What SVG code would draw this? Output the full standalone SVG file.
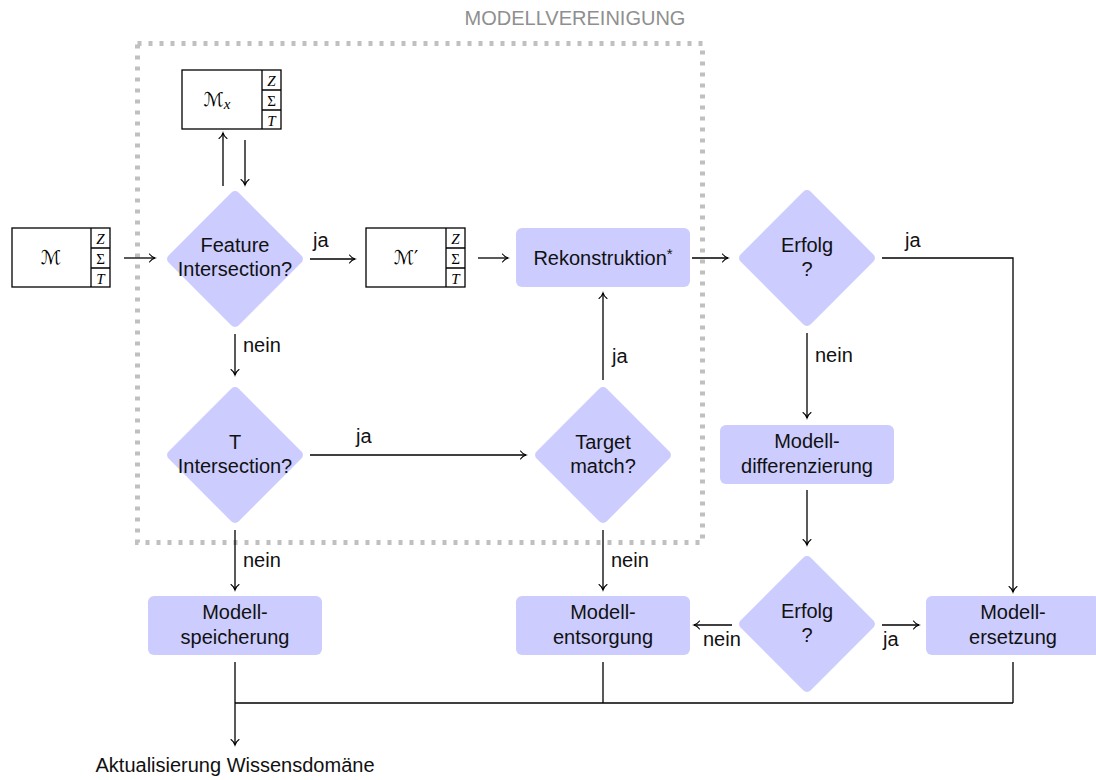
<svg xmlns="http://www.w3.org/2000/svg" width="1096" height="780" viewBox="0 0 1096 780">
  <defs>
    <marker id="arrow" markerUnits="userSpaceOnUse" markerWidth="12" markerHeight="12" viewBox="-7 -6 8 12" refX="0" refY="0" orient="auto">
      <path d="M-5.5,-4 C-3.8,-1.6 -1.4,-0.4 0,0 C-1.4,0.4 -3.8,1.6 -5.5,4" fill="none" stroke="#000" stroke-width="1.1" stroke-linecap="round"/>
    </marker>
  </defs>
  <style>
    .node { fill: #ccccff; }
    .txt { font-family: "Liberation Sans", Arial, sans-serif; font-size: 20px; fill: #111; text-anchor: middle; }
    .lbl { font-family: "Liberation Sans", Arial, sans-serif; font-size: 20px; fill: #111; }
    .title { font-family: "Liberation Sans", Arial, sans-serif; font-size: 20px; fill: #8f8f8f; text-anchor: middle; }
    .model { fill: #fff; stroke: #000; stroke-width: 1.3; }
    .cell { font-family: "Liberation Serif", "Times New Roman", serif; font-size: 15px; fill: #000; text-anchor: middle; }
    .it { font-style: italic; }
    .cal { font-family: "DejaVu Serif", "DejaVu Sans", serif; font-size: 19px; fill: #000; text-anchor: middle; }
    .edge { fill: none; stroke: #000; stroke-width: 1.3; }
    .arr { marker-end: url(#arrow); }
    .frame { fill: none; stroke: #c0c0c0; stroke-width: 5; stroke-dasharray: 4 7; }
  </style>

  <!-- union region -->
  <g id="modellvereinigung">
    <rect class="frame" x="137.5" y="43.5" width="565" height="499"/>
    <text class="title" x="575" y="25">MODELLVEREINIGUNG</text>
  </g>

  <!-- model tables -->
  <g id="model-m">
    <rect class="model" x="12" y="228" width="98" height="59"/>
    <path class="edge" d="M91,228 V287 M91,248 H110 M91,268 H110"/>
    <text class="cal" x="51" y="264">ℳ</text>
    <text class="cell it" x="100.5" y="244">Z</text>
    <text class="cell" x="100.5" y="264">Σ</text>
    <text class="cell it" x="100.5" y="284">T</text>
  </g>
  <g id="model-mx">
    <rect class="model" x="182" y="70" width="99" height="59"/>
    <path class="edge" d="M262,70 V129 M262,90 H281 M262,110 H281"/>
    <text class="cal" x="217" y="106">ℳ<tspan class="cell it" font-size="13" dy="3">x</tspan></text>
    <text class="cell it" x="271.5" y="86">Z</text>
    <text class="cell" x="271.5" y="106">Σ</text>
    <text class="cell it" x="271.5" y="126">T</text>
  </g>
  <g id="model-mprime">
    <rect class="model" x="366" y="228" width="99" height="59"/>
    <path class="edge" d="M446,228 V287 M446,248 H465 M446,268 H465"/>
    <text class="cal" x="406" y="264">ℳ′</text>
    <text class="cell it" x="455.5" y="244">Z</text>
    <text class="cell" x="455.5" y="264">Σ</text>
    <text class="cell it" x="455.5" y="284">T</text>
  </g>

  <!-- decisions -->
  <g id="feature-intersection">
    <rect class="node" x="-49.5" y="-49.5" width="99" height="99" rx="5" transform="translate(235,259) rotate(45)"/>
    <text class="txt" x="235" y="252">Feature</text>
    <text class="txt" x="235" y="276">Intersection?</text>
  </g>
  <g id="t-intersection">
    <rect class="node" x="-49.5" y="-49.5" width="99" height="99" rx="5" transform="translate(235,455) rotate(45)"/>
    <text class="txt" x="235" y="449">T</text>
    <text class="txt" x="235" y="473">Intersection?</text>
  </g>
  <g id="target-match">
    <rect class="node" x="-49.5" y="-49.5" width="99" height="99" rx="5" transform="translate(603,455) rotate(45)"/>
    <text class="txt" x="603" y="449">Target</text>
    <text class="txt" x="603" y="473">match?</text>
  </g>
  <g id="erfolg-1">
    <rect class="node" x="-49.5" y="-49.5" width="99" height="99" rx="5" transform="translate(807,258) rotate(45)"/>
    <text class="txt" x="807" y="252">Erfolg</text>
    <text class="txt" x="807" y="276">?</text>
  </g>
  <g id="erfolg-2">
    <rect class="node" x="-49.5" y="-49.5" width="99" height="99" rx="5" transform="translate(807,624) rotate(45)"/>
    <text class="txt" x="807" y="618">Erfolg</text>
    <text class="txt" x="807" y="642">?</text>
  </g>

  <!-- process steps -->
  <g id="rekonstruktion">
    <rect class="node" x="516" y="228" width="174" height="59" rx="6"/>
    <text class="txt" x="603" y="265">Rekonstruktion<tspan font-size="15" dy="-6">*</tspan></text>
  </g>
  <g id="modelldifferenzierung">
    <rect class="node" x="720" y="425" width="174" height="59" rx="6"/>
    <text class="txt" x="807" y="448">Modell-</text>
    <text class="txt" x="807" y="473">differenzierung</text>
  </g>
  <g id="modellspeicherung">
    <rect class="node" x="148" y="596" width="174" height="59" rx="6"/>
    <text class="txt" x="235" y="619">Modell-</text>
    <text class="txt" x="235" y="644">speicherung</text>
  </g>
  <g id="modellentsorgung">
    <rect class="node" x="516" y="596" width="174" height="59" rx="6"/>
    <text class="txt" x="603" y="619">Modell-</text>
    <text class="txt" x="603" y="644">entsorgung</text>
  </g>
  <g id="modellersetzung">
    <rect class="node" x="926" y="596" width="174" height="59" rx="6"/>
    <text class="txt" x="1013" y="619">Modell-</text>
    <text class="txt" x="1013" y="644">ersetzung</text>
  </g>

  <!-- connectors -->
  <g id="connectors">
    <path class="edge arr" d="M124,258 H155"/>
    <path class="edge arr" d="M223,186 V133"/>
    <path class="edge arr" d="M245,140 V185"/>
    <path class="edge arr" d="M310,259 H355"/>
    <path class="edge arr" d="M478,258 H508"/>
    <path class="edge arr" d="M692,258 H728"/>
    <path class="edge arr" d="M882,258 H1013 V592"/>
    <path class="edge arr" d="M807,333 V418"/>
    <path class="edge arr" d="M807,490 V545"/>
    <path class="edge arr" d="M882,625 H919"/>
    <path class="edge arr" d="M732,625 H694"/>
    <path class="edge arr" d="M235,334 V375"/>
    <path class="edge arr" d="M310,455 H526"/>
    <path class="edge arr" d="M603,380 V293"/>
    <path class="edge arr" d="M235,530 V590"/>
    <path class="edge arr" d="M603,530 V590"/>
    <path class="edge arr" d="M235,662 V745"/>
    <path class="edge" d="M603,662 V703 M1013,662 V703 M235,703 H1013"/>

    <text class="lbl" x="313" y="247">ja</text>
    <text class="lbl" x="243" y="352">nein</text>
    <text class="lbl" x="356" y="443">ja</text>
    <text class="lbl" x="612" y="363">ja</text>
    <text class="lbl" x="815" y="362">nein</text>
    <text class="lbl" x="905" y="247">ja</text>
    <text class="lbl" x="243" y="567">nein</text>
    <text class="lbl" x="611" y="567">nein</text>
    <text class="lbl" x="703" y="646">nein</text>
    <text class="lbl" x="883" y="646">ja</text>
    <text class="txt" x="235" y="772">Aktualisierung Wissensdomäne</text>
  </g>
</svg>
